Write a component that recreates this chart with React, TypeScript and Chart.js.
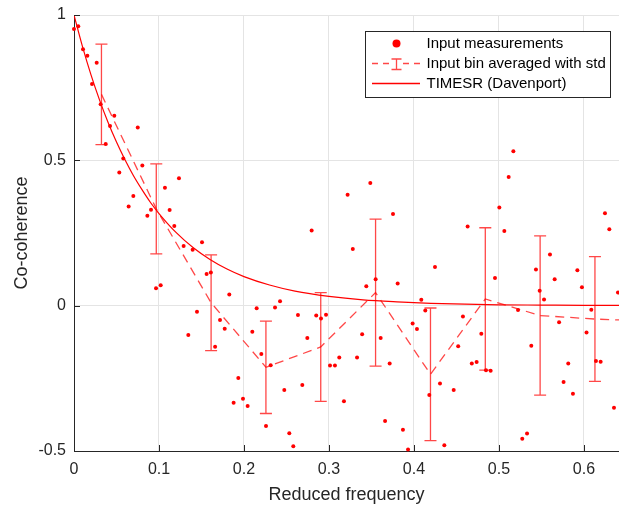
import React, { useEffect, useRef } from "react";
import { Chart, registerables } from "chart.js";

Chart.register(...registerables);

// ---- Data ----
const measX = [
  0.0, 0.005, 0.0106, 0.0157, 0.0212, 0.0267, 0.0314, 0.0373, 0.0424, 0.0474,
  0.0533, 0.058, 0.0643, 0.0698, 0.075, 0.0804, 0.0863, 0.0906, 0.0965, 0.102,
  0.107, 0.1125, 0.118, 0.1235, 0.129, 0.1345, 0.1396, 0.1447, 0.1506, 0.156,
  0.161, 0.166, 0.1718, 0.1773, 0.1827, 0.1878, 0.1933, 0.1988, 0.2043, 0.2098,
  0.2149, 0.2204, 0.2259, 0.2314, 0.2365, 0.2424, 0.2474, 0.2533, 0.258, 0.2635,
  0.2686, 0.2745, 0.2796, 0.285, 0.2906, 0.2965, 0.3012, 0.307, 0.3121, 0.3176,
  0.3219, 0.328, 0.333, 0.339, 0.3439, 0.3486, 0.3549, 0.3608, 0.366, 0.3714,
  0.3753, 0.3808, 0.387, 0.393, 0.3984, 0.4035, 0.4086, 0.4133, 0.418, 0.4247,
  0.4306, 0.4357, 0.4467, 0.452, 0.4576, 0.4631, 0.468, 0.4737, 0.4792, 0.4847,
  0.4902, 0.4953, 0.5004, 0.5063, 0.5114, 0.5169, 0.5224, 0.5274, 0.533, 0.538,
  0.5435, 0.5479, 0.553, 0.56, 0.5655, 0.5707, 0.576, 0.5815, 0.587, 0.5922,
  0.5976, 0.603, 0.6086, 0.6141, 0.6196, 0.6247, 0.6298, 0.6353, 0.64,
];
const measY = [
  0.952, 0.961, 0.882, 0.86, 0.763, 0.836, 0.693, 0.556, 0.618, 0.653,
  0.458, 0.506, 0.341, 0.377, 0.613, 0.482, 0.309, 0.33, 0.06, 0.07,
  0.406, 0.329, 0.274, 0.438, 0.205, -0.101, 0.192, -0.021, 0.218, 0.109,
  0.114, -0.141, -0.049, -0.079, 0.038, -0.334, -0.249, -0.32, -0.345, -0.09,
  -0.009, -0.166, -0.414, -0.205, -0.006, 0.015, -0.29, -0.439, -0.484, -0.032,
  -0.273, -0.111, 0.259, -0.034, -0.044, -0.031, -0.206, -0.206, -0.178, -0.329,
  0.382, 0.195, -0.178, -0.098, 0.067, 0.422, 0.091, -0.111, -0.397, -0.199,
  0.315, 0.076, -0.427, -0.495, -0.061, -0.08, 0.02, -0.017, -0.307, 0.133,
  -0.268, -0.48, -0.29, -0.14, -0.037, 0.272, -0.199, -0.194, -0.097, -0.222,
  -0.224, 0.095, 0.338, 0.257, 0.443, 0.531, -0.015, -0.458, -0.44, -0.138,
  0.124, 0.051, 0.021, 0.176, 0.091, -0.057, -0.263, -0.199, -0.303, 0.122,
  0.063, -0.092, -0.014, -0.19, -0.193, 0.318, 0.263, -0.351, 0.045,
];

const binX = [0.0323, 0.0968, 0.1613, 0.2258, 0.2903, 0.3548, 0.4194, 0.4839, 0.5484, 0.6129, 0.6774];
const binMean = [0.727, 0.333, 0.01, -0.212, -0.142, 0.045, -0.236, 0.023, -0.034, -0.046, -0.053];
const binStd = [0.173, 0.155, 0.165, 0.159, 0.187, 0.253, 0.228, 0.245, 0.274, 0.2145, 0.2];

const modelX = [0, 0.01, 0.02, 0.03, 0.04, 0.05, 0.06, 0.07, 0.08, 0.09, 0.1, 0.12, 0.14, 0.16, 0.18, 0.2, 0.23, 0.26, 0.3, 0.34, 0.38, 0.42, 0.46, 0.5, 0.55, 0.6, 0.645];
const modelY = [1.0, 0.891, 0.794, 0.708, 0.631, 0.563, 0.502, 0.447, 0.399, 0.355, 0.317, 0.252, 0.2, 0.159, 0.126, 0.1, 0.071, 0.05, 0.032, 0.02, 0.013, 0.008, 0.005, 0.003, 0.002, 0.001, 0.001];

const xTickValues = [0, 0.1, 0.2, 0.3, 0.4, 0.5, 0.6];
const yTickValues = [-0.5, 0, 0.5, 1];
const legendLabels = ["Input measurements", "Input bin averaged with std", "TIMESR (Davenport)"];

const FONT = "'Liberation Sans', Arial, Helvetica, sans-serif";
const AXIS = "#262626";
const RED = "#ff0000";
const RED_LIGHT = "rgba(255,0,0,0.72)";

const errorBarPlugin = {
  id: "errorBars",
  afterDatasetsDraw(chart: any) {
    const { ctx, chartArea, scales } = chart;
    const xs = scales.x;
    const ys = scales.y;
    ctx.save();
    ctx.beginPath();
    ctx.rect(chartArea.left, chartArea.top - 2, chartArea.right - chartArea.left, chartArea.bottom - chartArea.top + 4);
    ctx.clip();
    ctx.strokeStyle = RED_LIGHT;
    ctx.lineWidth = 1.3;
    ctx.setLineDash([]);
    for (let i = 0; i < binX.length; i++) {
      const px = xs.getPixelForValue(binX[i]);
      const top = ys.getPixelForValue(binMean[i] + binStd[i]);
      const bot = ys.getPixelForValue(binMean[i] - binStd[i]);
      ctx.beginPath();
      ctx.moveTo(px, top);
      ctx.lineTo(px, bot);
      ctx.moveTo(px - 6, top);
      ctx.lineTo(px + 6, top);
      ctx.moveTo(px - 6, bot);
      ctx.lineTo(px + 6, bot);
      ctx.stroke();
    }
    ctx.restore();
  },
};

const axesPlugin = {
  id: "matlabAxes",
  afterDraw(chart: any) {
    const { ctx, chartArea, scales } = chart;
    ctx.save();
    ctx.strokeStyle = AXIS;
    ctx.lineWidth = 1;
    ctx.setLineDash([]);
    ctx.beginPath();
    for (const v of xTickValues) {
      const px = Math.round(scales.x.getPixelForValue(v)) + 0.5;
      ctx.moveTo(px, chartArea.bottom);
      ctx.lineTo(px, chartArea.bottom - 6);
    }
    for (const v of yTickValues) {
      const py = Math.round(scales.y.getPixelForValue(v)) + 0.5;
      ctx.moveTo(chartArea.left, py);
      ctx.lineTo(chartArea.left + 6, py);
    }
    ctx.stroke();

    // legend
    const bx = 365.5, by = 31.5, bw = 245, bh = 66;
    ctx.fillStyle = "#ffffff";
    ctx.fillRect(bx, by, bw, bh);
    ctx.strokeStyle = AXIS;
    ctx.strokeRect(bx, by, bw, bh);
    const rows = [43.5, 63.5, 83.5];
    const x0 = 372, x1 = 420, xc = 396.5;
    // row 1: dot
    ctx.fillStyle = RED;
    ctx.beginPath();
    ctx.arc(xc, rows[0], 4, 0, Math.PI * 2);
    ctx.fill();
    // row 2: dashed + errorbar
    ctx.strokeStyle = RED_LIGHT;
    ctx.lineWidth = 1.3;
    ctx.setLineDash([6, 5]);
    ctx.beginPath();
    ctx.moveTo(x0, rows[1]);
    ctx.lineTo(390, rows[1]);
    ctx.moveTo(403, rows[1]);
    ctx.lineTo(x1, rows[1]);
    ctx.stroke();
    ctx.setLineDash([]);
    ctx.beginPath();
    ctx.moveTo(xc, rows[1] - 4.5);
    ctx.lineTo(xc, rows[1] + 6);
    ctx.moveTo(xc - 5, rows[1] - 4.5);
    ctx.lineTo(xc + 5, rows[1] - 4.5);
    ctx.moveTo(xc - 5, rows[1] + 6);
    ctx.lineTo(xc + 5, rows[1] + 6);
    ctx.stroke();
    // row 3: solid
    ctx.strokeStyle = RED;
    ctx.lineWidth = 1.4;
    ctx.beginPath();
    ctx.moveTo(x0, rows[2]);
    ctx.lineTo(x1, rows[2]);
    ctx.stroke();
    // text
    ctx.fillStyle = "#000000";
    ctx.font = `15px ${FONT}`;
    ctx.textBaseline = "middle";
    ctx.textAlign = "left";
    legendLabels.forEach((t, i) => ctx.fillText(t, 426.5, rows[i] + 0.5));
    ctx.restore();
  },
};

export default function App() {
  const ref = useRef<HTMLCanvasElement | null>(null);

  useEffect(() => {
    if (!ref.current) return;
    const chart = new Chart(ref.current, {
      type: "scatter",
      data: {
        datasets: [
          {
            label: legendLabels[0],
            data: measX.map((x, i) => ({ x, y: measY[i] })),
            backgroundColor: RED,
            borderWidth: 0,
            pointRadius: 2,
            showLine: false,
            clip: 5,
          } as any,
          {
            label: legendLabels[1],
            data: binX.map((x, i) => ({ x, y: binMean[i] })),
            borderColor: RED_LIGHT,
            borderWidth: 1.3,
            borderDash: [9, 6],
            pointRadius: 0,
            showLine: true,
            fill: false,
          } as any,
          {
            label: legendLabels[2],
            data: modelX.map((x, i) => ({ x, y: modelY[i] })),
            borderColor: RED,
            borderWidth: 1.2,
            pointRadius: 0,
            showLine: true,
            fill: false,
            cubicInterpolationMode: "monotone",
          } as any,
        ],
      },
      options: {
        animation: false,
        responsive: false,
        devicePixelRatio: 1,
        layout: { autoPadding: false, padding: { top: 15, right: 0, left: 0, bottom: 0 } },
        plugins: { legend: { display: false }, tooltip: { enabled: false } },
        scales: {
          x: {
            type: "linear",
            min: 0,
            max: 0.6412,
            afterBuildTicks: (s: any) => {
              s.ticks = xTickValues.map((v) => ({ value: v }));
            },
            afterFit: (s: any) => {
              s.height = 59;
              s.paddingLeft = 0;
              s.paddingRight = 0;
            },
            grid: { color: "#e4e4e4", drawTicks: false, lineWidth: 1 },
            border: { display: true, color: AXIS, width: 1 },
            ticks: {
              padding: 9,
              color: AXIS,
              font: { family: FONT, size: 16 },
              maxRotation: 0,
              callback: (v: any) => (v === 0 ? "0" : Number(v).toFixed(1)),
            },
            title: {
              display: true,
              text: "Reduced frequency",
              color: AXIS,
              font: { family: FONT, size: 18 },
              padding: { top: 0, bottom: 4 },
            },
          },
          y: {
            type: "linear",
            min: -0.5,
            max: 1,
            afterBuildTicks: (s: any) => {
              s.ticks = yTickValues.map((v) => ({ value: v }));
            },
            afterFit: (s: any) => {
              s.width = 74;
              s.paddingTop = 0;
              s.paddingBottom = 0;
            },
            grid: { color: "#e4e4e4", drawTicks: false, lineWidth: 1 },
            border: { display: true, color: AXIS, width: 1 },
            ticks: {
              padding: 8,
              color: AXIS,
              font: { family: FONT, size: 16 },
              callback: (v: any) => String(Math.round(Number(v) * 10) / 10),
            },
            title: {
              display: true,
              text: "Co-coherence",
              color: AXIS,
              font: { family: FONT, size: 18 },
              padding: { top: 11, bottom: 0 },
            },
          },
        },
      },
      plugins: [errorBarPlugin, axesPlugin],
    });
    return () => chart.destroy();
  }, []);

  return (
    <div style={{ position: "fixed", left: 0, top: 0, width: 619, height: 510, background: "#fff" }}>
      <canvas ref={ref} width={619} height={510} style={{ width: 619, height: 510, display: "block" }} />
    </div>
  );
}
